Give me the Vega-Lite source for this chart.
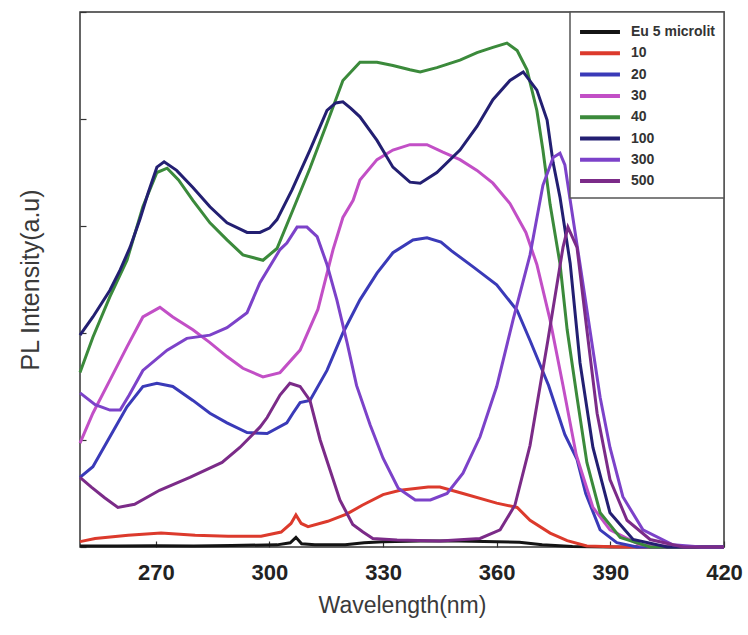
{
  "$schema": "https://vega.github.io/schema/vega-lite/v6.json",
  "width": 644,
  "height": 535,
  "autosize": {"type": "none"},
  "padding": {"left": 80, "top": 12, "right": 24, "bottom": 88},
  "background": "white",
  "config": {
    "view": {"stroke": "#333", "strokeWidth": 1.5},
    "legend": {
      "orient": "top-right", "offset": 0, "padding": 8,
      "strokeColor": "#555", "strokeWidth": 1.5, "fillColor": "white",
      "symbolType": "M-2.06,0H2.06", "symbolSize": 376, "symbolStrokeWidth": 4,
      "symbolOffset": 10, "labelOffset": 19, "rowPadding": 1.3,
      "labelFont": "Liberation Sans", "labelFontSize": 14, "labelFontWeight": "bold",
      "labelColor": "#333", "labelLimit": 200
    }
  },
  "data": {"values": [
    {"s":"Eu 5 microlit","x":250,"y":0.01},{"s":"Eu 5 microlit","x":260,"y":0.01},{"s":"Eu 5 microlit","x":270,"y":0.012},{"s":"Eu 5 microlit","x":280,"y":0.01},{"s":"Eu 5 microlit","x":290,"y":0.015},{"s":"Eu 5 microlit","x":302,"y":0.02},{"s":"Eu 5 microlit","x":305.5,"y":0.04},{"s":"Eu 5 microlit","x":307,"y":0.09},{"s":"Eu 5 microlit","x":308.5,"y":0.03},{"s":"Eu 5 microlit","x":312,"y":0.02},{"s":"Eu 5 microlit","x":320,"y":0.02},{"s":"Eu 5 microlit","x":325,"y":0.04},{"s":"Eu 5 microlit","x":330,"y":0.05},{"s":"Eu 5 microlit","x":340,"y":0.056},{"s":"Eu 5 microlit","x":350,"y":0.056},{"s":"Eu 5 microlit","x":360,"y":0.05},{"s":"Eu 5 microlit","x":366,"y":0.045},{"s":"Eu 5 microlit","x":372,"y":0.02},{"s":"Eu 5 microlit","x":380,"y":0.005},{"s":"Eu 5 microlit","x":390,"y":0},{"s":"Eu 5 microlit","x":420,"y":0},
    {"s":"10","x":250,"y":0.05},{"s":"10","x":254,"y":0.08},{"s":"10","x":262.7,"y":0.11},{"s":"10","x":271.4,"y":0.13},{"s":"10","x":280.4,"y":0.11},{"s":"10","x":289.1,"y":0.1},{"s":"10","x":297.8,"y":0.1},{"s":"10","x":303.1,"y":0.14},{"s":"10","x":305.7,"y":0.22},{"s":"10","x":307,"y":0.3},{"s":"10","x":308.4,"y":0.22},{"s":"10","x":310.2,"y":0.19},{"s":"10","x":315.4,"y":0.24},{"s":"10","x":320.5,"y":0.31},{"s":"10","x":324.5,"y":0.39},{"s":"10","x":330,"y":0.49},{"s":"10","x":334.5,"y":0.53},{"s":"10","x":341.9,"y":0.56},{"s":"10","x":345,"y":0.56},{"s":"10","x":351.1,"y":0.5},{"s":"10","x":360,"y":0.41},{"s":"10","x":365.4,"y":0.37},{"s":"10","x":368.8,"y":0.25},{"s":"10","x":374.1,"y":0.13},{"s":"10","x":378.6,"y":0.06},{"s":"10","x":383.8,"y":0.01},{"s":"10","x":392.6,"y":0},{"s":"10","x":420,"y":0},
    {"s":"20","x":250,"y":0.65},{"s":"20","x":253.4,"y":0.75},{"s":"20","x":257.9,"y":1.03},{"s":"20","x":262.4,"y":1.31},{"s":"20","x":266.6,"y":1.5},{"s":"20","x":270.3,"y":1.53},{"s":"20","x":274.5,"y":1.5},{"s":"20","x":279.8,"y":1.37},{"s":"20","x":284.3,"y":1.25},{"s":"20","x":288.8,"y":1.16},{"s":"20","x":294.1,"y":1.07},{"s":"20","x":299.4,"y":1.06},{"s":"20","x":304.6,"y":1.16},{"s":"20","x":306.2,"y":1.25},{"s":"20","x":308.1,"y":1.35},{"s":"20","x":310.7,"y":1.37},{"s":"20","x":315.2,"y":1.65},{"s":"20","x":319.4,"y":2.0},{"s":"20","x":323.9,"y":2.31},{"s":"20","x":328.4,"y":2.56},{"s":"20","x":332.6,"y":2.75},{"s":"20","x":337.9,"y":2.87},{"s":"20","x":341.6,"y":2.89},{"s":"20","x":345.3,"y":2.85},{"s":"20","x":348,"y":2.77},{"s":"20","x":353.7,"y":2.62},{"s":"20","x":360,"y":2.45},{"s":"20","x":365.4,"y":2.21},{"s":"20","x":368.8,"y":1.93},{"s":"20","x":373.7,"y":1.51},{"s":"20","x":378,"y":1.05},{"s":"20","x":381.2,"y":0.82},{"s":"20","x":383.5,"y":0.5},{"s":"20","x":387.3,"y":0.16},{"s":"20","x":391.7,"y":0.04},{"s":"20","x":397,"y":0},{"s":"20","x":420,"y":0},
    {"s":"30","x":250,"y":0.97},{"s":"30","x":253.4,"y":1.25},{"s":"30","x":257.9,"y":1.56},{"s":"30","x":262.4,"y":1.87},{"s":"30","x":266.6,"y":2.15},{"s":"30","x":271.1,"y":2.24},{"s":"30","x":274.5,"y":2.15},{"s":"30","x":279.8,"y":2.03},{"s":"30","x":284.3,"y":1.91},{"s":"30","x":288.8,"y":1.78},{"s":"30","x":293,"y":1.67},{"s":"30","x":298.3,"y":1.59},{"s":"30","x":302.8,"y":1.63},{"s":"30","x":308.1,"y":1.84},{"s":"30","x":312.8,"y":2.22},{"s":"30","x":316.8,"y":2.78},{"s":"30","x":319.4,"y":3.08},{"s":"30","x":322.1,"y":3.24},{"s":"30","x":323.9,"y":3.43},{"s":"30","x":328.4,"y":3.62},{"s":"30","x":332.6,"y":3.71},{"s":"30","x":337.1,"y":3.76},{"s":"30","x":341.6,"y":3.76},{"s":"30","x":345.8,"y":3.69},{"s":"30","x":350.3,"y":3.62},{"s":"30","x":354.8,"y":3.52},{"s":"30","x":359,"y":3.4},{"s":"30","x":363.5,"y":3.21},{"s":"30","x":367.7,"y":2.94},{"s":"30","x":370.6,"y":2.64},{"s":"30","x":374.1,"y":2.12},{"s":"30","x":377.5,"y":1.51},{"s":"30","x":381,"y":0.86},{"s":"30","x":385.4,"y":0.37},{"s":"30","x":389.9,"y":0.16},{"s":"30","x":397.8,"y":0.02},{"s":"30","x":410,"y":0},{"s":"30","x":420,"y":0},
    {"s":"40","x":250,"y":1.63},{"s":"40","x":253.4,"y":1.96},{"s":"40","x":257.9,"y":2.34},{"s":"40","x":262.4,"y":2.68},{"s":"40","x":266.6,"y":3.18},{"s":"40","x":270.3,"y":3.5},{"s":"40","x":273,"y":3.54},{"s":"40","x":276,"y":3.43},{"s":"40","x":279.8,"y":3.24},{"s":"40","x":284.3,"y":3.03},{"s":"40","x":288.8,"y":2.87},{"s":"40","x":293,"y":2.73},{"s":"40","x":298.3,"y":2.68},{"s":"40","x":302,"y":2.79},{"s":"40","x":306.2,"y":3.15},{"s":"40","x":310.7,"y":3.54},{"s":"40","x":315.2,"y":3.96},{"s":"40","x":319.4,"y":4.36},{"s":"40","x":323.9,"y":4.53},{"s":"40","x":328.4,"y":4.53},{"s":"40","x":332.6,"y":4.5},{"s":"40","x":337.1,"y":4.46},{"s":"40","x":339.8,"y":4.44},{"s":"40","x":344.2,"y":4.48},{"s":"40","x":350.3,"y":4.55},{"s":"40","x":354.8,"y":4.62},{"s":"40","x":359,"y":4.67},{"s":"40","x":362.7,"y":4.71},{"s":"40","x":365.4,"y":4.64},{"s":"40","x":368,"y":4.46},{"s":"40","x":370.6,"y":4.08},{"s":"40","x":372.2,"y":3.71},{"s":"40","x":374.1,"y":3.2},{"s":"40","x":376.7,"y":2.65},{"s":"40","x":378.6,"y":2.03},{"s":"40","x":381.2,"y":1.4},{"s":"40","x":383.8,"y":0.79},{"s":"40","x":387.3,"y":0.32},{"s":"40","x":392.6,"y":0.09},{"s":"40","x":400.5,"y":0},{"s":"40","x":420,"y":0},
    {"s":"100","x":250,"y":1.98},{"s":"100","x":253.4,"y":2.15},{"s":"100","x":257.9,"y":2.4},{"s":"100","x":260.6,"y":2.59},{"s":"100","x":263.2,"y":2.8},{"s":"100","x":265.8,"y":3.06},{"s":"100","x":268,"y":3.31},{"s":"100","x":270.3,"y":3.55},{"s":"100","x":272.2,"y":3.6},{"s":"100","x":275.5,"y":3.52},{"s":"100","x":279.8,"y":3.36},{"s":"100","x":284.3,"y":3.18},{"s":"100","x":288.8,"y":3.03},{"s":"100","x":294.1,"y":2.94},{"s":"100","x":297.5,"y":2.94},{"s":"100","x":300,"y":2.98},{"s":"100","x":302,"y":3.06},{"s":"100","x":306,"y":3.34},{"s":"100","x":310.7,"y":3.71},{"s":"100","x":315.2,"y":4.08},{"s":"100","x":317.5,"y":4.15},{"s":"100","x":319.4,"y":4.16},{"s":"100","x":321.5,"y":4.1},{"s":"100","x":323.9,"y":4.02},{"s":"100","x":328.4,"y":3.8},{"s":"100","x":332.6,"y":3.55},{"s":"100","x":337.1,"y":3.41},{"s":"100","x":339.8,"y":3.4},{"s":"100","x":344.2,"y":3.5},{"s":"100","x":350.3,"y":3.71},{"s":"100","x":354.8,"y":3.93},{"s":"100","x":359,"y":4.18},{"s":"100","x":363.5,"y":4.36},{"s":"100","x":367,"y":4.44},{"s":"100","x":370.6,"y":4.27},{"s":"100","x":373.3,"y":3.99},{"s":"100","x":374.9,"y":3.59},{"s":"100","x":376.7,"y":3.27},{"s":"100","x":379.4,"y":2.65},{"s":"100","x":382,"y":1.72},{"s":"100","x":385.4,"y":0.93},{"s":"100","x":389.9,"y":0.32},{"s":"100","x":396,"y":0.07},{"s":"100","x":405,"y":0},{"s":"100","x":420,"y":0},
    {"s":"300","x":250,"y":1.44},{"s":"300","x":254,"y":1.33},{"s":"300","x":257.9,"y":1.28},{"s":"300","x":260.6,"y":1.28},{"s":"300","x":263,"y":1.42},{"s":"300","x":266.6,"y":1.65},{"s":"300","x":273,"y":1.84},{"s":"300","x":278.2,"y":1.95},{"s":"300","x":284.3,"y":1.98},{"s":"300","x":288.8,"y":2.05},{"s":"300","x":294.1,"y":2.19},{"s":"300","x":297.5,"y":2.47},{"s":"300","x":302.8,"y":2.78},{"s":"300","x":304.6,"y":2.84},{"s":"300","x":307.3,"y":2.99},{"s":"300","x":309.9,"y":2.99},{"s":"300","x":312.6,"y":2.9},{"s":"300","x":315.2,"y":2.64},{"s":"300","x":317.8,"y":2.31},{"s":"300","x":320.5,"y":1.91},{"s":"300","x":323,"y":1.51},{"s":"300","x":326.6,"y":1.14},{"s":"300","x":330,"y":0.83},{"s":"300","x":334,"y":0.55},{"s":"300","x":338.5,"y":0.44},{"s":"300","x":342.5,"y":0.44},{"s":"300","x":346.9,"y":0.5},{"s":"300","x":351.1,"y":0.69},{"s":"300","x":355.6,"y":1.03},{"s":"300","x":360,"y":1.5},{"s":"300","x":364.3,"y":2.12},{"s":"300","x":368.8,"y":2.73},{"s":"300","x":372.2,"y":3.38},{"s":"300","x":374.9,"y":3.64},{"s":"300","x":376.7,"y":3.68},{"s":"300","x":378,"y":3.57},{"s":"300","x":379.4,"y":3.24},{"s":"300","x":382,"y":2.64},{"s":"300","x":384.6,"y":2.03},{"s":"300","x":387.3,"y":1.4},{"s":"300","x":389.9,"y":0.93},{"s":"300","x":393.3,"y":0.47},{"s":"300","x":398.6,"y":0.16},{"s":"300","x":406.5,"y":0.02},{"s":"300","x":414,"y":0},{"s":"300","x":420,"y":0},
    {"s":"500","x":250,"y":0.65},{"s":"500","x":253,"y":0.56},{"s":"500","x":256.5,"y":0.46},{"s":"500","x":260,"y":0.37},{"s":"500","x":264.4,"y":0.4},{"s":"500","x":271,"y":0.53},{"s":"500","x":279,"y":0.65},{"s":"500","x":287.5,"y":0.79},{"s":"500","x":292.2,"y":0.93},{"s":"500","x":297.5,"y":1.12},{"s":"500","x":299.4,"y":1.21},{"s":"500","x":302.8,"y":1.42},{"s":"500","x":305.4,"y":1.53},{"s":"500","x":308.1,"y":1.5},{"s":"500","x":310.7,"y":1.37},{"s":"500","x":313.4,"y":1.0},{"s":"500","x":316,"y":0.72},{"s":"500","x":318.6,"y":0.44},{"s":"500","x":322,"y":0.21},{"s":"500","x":324.7,"y":0.14},{"s":"500","x":327.3,"y":0.08},{"s":"500","x":333.7,"y":0.065},{"s":"500","x":345,"y":0.056},{"s":"500","x":355.6,"y":0.08},{"s":"500","x":360.9,"y":0.16},{"s":"500","x":364.8,"y":0.39},{"s":"500","x":368.8,"y":0.95},{"s":"500","x":373.5,"y":1.93},{"s":"500","x":377.5,"y":2.8},{"s":"500","x":378.8,"y":2.99},{"s":"500","x":381.2,"y":2.8},{"s":"500","x":383.8,"y":2.03},{"s":"500","x":386.5,"y":1.25},{"s":"500","x":389.9,"y":0.63},{"s":"500","x":394.4,"y":0.25},{"s":"500","x":400.5,"y":0.07},{"s":"500","x":409.2,"y":0},{"s":"500","x":420,"y":0}
  ]},
  "mark": {"type": "line", "strokeWidth": 3, "interpolate": "linear"},
  "encoding": {
    "x": {
      "field": "x", "type": "quantitative",
      "scale": {"domain": [250, 420], "nice": false, "zero": false},
      "axis": {
        "values": [270, 300, 330, 360, 390, 420], "tickSize": -6, "tickColor": "#333", "tickWidth": 1.2,
        "domain": false, "grid": false, "labelFlush": false,
        "labelFont": "Liberation Sans", "labelFontSize": 22, "labelFontWeight": "bold", "labelColor": "#222",
        "labelPadding": 21,
        "title": "Wavelength(nm)", "titleFont": "Liberation Sans", "titleFontSize": 23, "titleFontWeight": "normal",
        "titleColor": "#3a3a3a", "titlePadding": 11
      }
    },
    "y": {
      "field": "y", "type": "quantitative",
      "scale": {"domain": [0, 5], "nice": false},
      "axis": {
        "values": [0, 1, 2, 3, 4, 5], "labels": false, "tickSize": -6, "tickColor": "#333", "tickWidth": 1.2,
        "domain": false, "grid": false,
        "title": "PL Intensity(a.u)", "titleFont": "Liberation Sans", "titleFontSize": 25, "titleFontWeight": "normal",
        "titleColor": "#3a3a3a", "titlePadding": 36
      }
    },
    "color": {
      "field": "s", "type": "nominal",
      "scale": {
        "domain": ["Eu 5 microlit", "10", "20", "30", "40", "100", "300", "500"],
        "range": ["#141414", "#dc3a2c", "#3a3ab8", "#c24fc6", "#3b8a3b", "#231f72", "#7c42c9", "#7b2b88"]
      },
      "legend": {"title": null}
    }
  }
}
